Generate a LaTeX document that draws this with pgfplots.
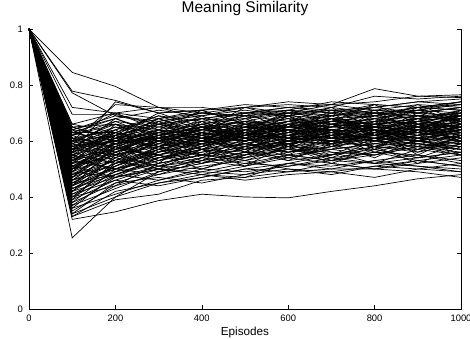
\documentclass[border=0pt]{standalone}
\usepackage{pgfplots}
\usepackage{pgfplotstable}
\pgfplotsset{compat=1.18}
\usepackage{fontspec}
\setmainfont{Liberation Sans}

\pgfplotstableread{
id 0 100 200 300 400 500 600 700 800 900 1000
s1 1 .845 .795 .72 .70 .69 .70 .71 .70 .69 .70
s2 1 .778 .745 .70 .71 .72 .73 .72 .76 .75 .76
s3 1 .772 .69 .67 .70 .72 .74 .73 .74 .76 .765
s4 1 .72 .70 .72 .72 .70 .72 .73 .787 .76 .755
s5 1 .695 .695 .66 .68 .70 .69 .71 .72 .74 .75
s6 1 .254 .40 .45 .47 .50 .52 .55 .58 .57 .60
s7 1 .32 .347 .387 .41 .40 .397 .42 .44 .465 .48
s8 1 .33 .39 .41 .46 .47 .49 .50 .50 .49 .47
s9 1 .33 .42 .45 .48 .47 .52 .51 .53 .55 .52
s10 1 .34 .45 .50 .48 .46 .48 .49 .47 .50 .49
s11 1 .56 .74 .70 .71 .66 .69 .68 .70 .72 .71
s12 1 .60 .73 .72 .68 .70 .71 .74 .73 .72 .74
s13 1 .35 .44 .52 .55 .58 .60 .59 .62 .63 .61
s14 1 .36 .48 .53 .57 .55 .60 .62 .61 .64 .66
s15 1 .37 .43 .49 .52 .56 .54 .58 .60 .59 .62
s16 1 .38 .50 .55 .60 .62 .61 .63 .65 .64 .63
s17 1 .39 .46 .51 .50 .54 .57 .56 .55 .58 .57
s18 1 .40 .52 .58 .62 .64 .66 .65 .67 .69 .68
s19 1 .40 .44 .48 .53 .51 .55 .53 .52 .54 .56
s20 1 .41 .49 .56 .59 .63 .62 .64 .66 .65 .67
s21 1 .42 .55 .60 .63 .61 .65 .67 .66 .68 .70
s22 1 .42 .47 .50 .49 .52 .51 .53 .56 .55 .53
s23 1 .43 .51 .57 .61 .60 .63 .62 .64 .63 .65
s24 1 .44 .58 .62 .65 .67 .66 .69 .70 .68 .71
s25 1 .44 .50 .53 .56 .59 .58 .60 .62 .61 .60
s26 1 .45 .54 .59 .57 .60 .62 .61 .59 .62 .64
s27 1 .45 .48 .52 .55 .53 .56 .58 .57 .60 .59
s28 1 .46 .56 .63 .66 .64 .67 .69 .71 .70 .72
s29 1 .46 .52 .55 .58 .62 .60 .63 .61 .64 .62
s30 1 .47 .60 .64 .62 .66 .68 .67 .69 .71 .70
s31 1 .47 .53 .49 .52 .55 .57 .54 .56 .53 .55
s32 1 .48 .57 .61 .64 .63 .65 .64 .66 .67 .69
s33 1 .48 .51 .56 .60 .58 .61 .63 .62 .65 .63
s34 1 .49 .59 .62 .60 .63 .61 .64 .63 .62 .65
s35 1 .49 .55 .58 .55 .57 .60 .59 .61 .60 .58
s36 1 .50 .62 .66 .68 .67 .70 .68 .69 .72 .71
s37 1 .50 .53 .57 .61 .64 .62 .65 .67 .66 .68
s38 1 .51 .58 .55 .58 .61 .59 .62 .64 .63 .61
s39 1 .51 .47 .51 .54 .52 .55 .57 .59 .58 .60
s40 1 .52 .61 .63 .66 .69 .67 .70 .68 .71 .73
s41 1 .52 .56 .60 .58 .62 .64 .63 .65 .64 .66
s42 1 .53 .59 .64 .67 .65 .68 .66 .70 .69 .67
s43 1 .53 .50 .54 .57 .56 .59 .61 .60 .62 .64
s44 1 .54 .63 .61 .64 .66 .65 .67 .66 .68 .69
s45 1 .54 .57 .62 .60 .63 .61 .60 .63 .65 .62
s46 1 .55 .61 .65 .63 .60 .64 .66 .65 .63 .66
s47 1 .55 .52 .56 .59 .61 .58 .57 .59 .61 .59
s48 1 .56 .64 .68 .70 .69 .71 .70 .72 .70 .72
s49 1 .56 .60 .58 .61 .63 .66 .64 .62 .66 .65
s50 1 .57 .62 .66 .64 .67 .65 .68 .67 .66 .70
s51 1 .57 .55 .59 .62 .60 .62 .65 .64 .61 .63
s52 1 .58 .65 .63 .66 .68 .70 .69 .71 .73 .72
s53 1 .58 .61 .57 .55 .58 .61 .60 .58 .56 .59
s54 1 .59 .63 .67 .69 .71 .69 .72 .70 .71 .74
s55 1 .59 .56 .60 .63 .65 .64 .62 .65 .67 .66
s56 1 .60 .66 .64 .62 .65 .67 .66 .68 .67 .65
s57 1 .60 .58 .54 .57 .59 .56 .58 .61 .60 .62
s58 1 .61 .64 .69 .67 .70 .72 .71 .69 .72 .73
s59 1 .61 .59 .62 .65 .63 .66 .68 .66 .64 .67
s60 1 .62 .67 .65 .68 .66 .63 .65 .67 .69 .68
s61 1 .62 .57 .55 .52 .55 .58 .57 .55 .58 .56
s62 1 .63 .68 .71 .69 .72 .70 .73 .71 .70 .72
s63 1 .63 .60 .63 .61 .64 .67 .65 .68 .66 .64
s64 1 .64 .62 .66 .70 .68 .71 .69 .72 .74 .73
s65 1 .64 .69 .66 .63 .61 .63 .66 .64 .67 .69
s66 1 .65 .66 .62 .65 .67 .64 .67 .69 .68 .70
s67 1 .65 .61 .58 .60 .57 .60 .62 .60 .63 .61
s68 1 .66 .70 .68 .71 .73 .72 .70 .73 .72 .74
s69 1 .36 .41 .46 .50 .49 .51 .54 .52 .51 .50
s70 1 .38 .45 .47 .45 .48 .50 .48 .51 .53 .51
s71 1 .41 .46 .44 .47 .50 .49 .52 .50 .52 .54
s72 1 .43 .48 .46 .49 .48 .52 .50 .53 .51 .49
s73 1 .46 .50 .48 .51 .53 .50 .49 .51 .50 .52
s74 1 .49 .47 .50 .48 .51 .54 .52 .50 .53 .51
s75 1 .52 .54 .51 .53 .56 .53 .55 .57 .54 .56
s76 1 .55 .49 .52 .55 .54 .57 .55 .58 .57 .55
s77 1 .58 .53 .50 .53 .56 .55 .53 .55 .59 .58
s78 1 .34 .40 .49 .54 .57 .59 .62 .64 .63 .65
s79 1 .37 .47 .54 .58 .62 .64 .63 .66 .68 .67
s80 1 .39 .53 .60 .64 .62 .65 .67 .65 .67 .69
s81 1 .42 .51 .58 .61 .65 .63 .66 .68 .70 .69
s82 1 .44 .54 .61 .59 .62 .66 .64 .63 .66 .68
s83 1 .47 .57 .62 .65 .63 .60 .62 .64 .62 .64
s84 1 .50 .58 .63 .61 .59 .62 .60 .62 .64 .61
s85 1 .53 .63 .60 .62 .60 .63 .61 .63 .61 .63
s86 1 .57 .60 .61 .59 .62 .60 .63 .60 .62 .60
s87 1 .60 .62 .60 .63 .61 .59 .61 .62 .60 .58
s88 1 .63 .59 .61 .64 .62 .65 .63 .61 .63 .60
s89 1 .45 .52 .57 .60 .58 .56 .59 .61 .59 .57
s90 1 .40 .48 .54 .56 .59 .57 .60 .58 .60 .62
s91 1 .47 .58 .52 .63 .56 .66 .58 .64 .55 .62
s92 1 .49 .62 .55 .60 .67 .58 .64 .57 .66 .60
s93 1 .51 .55 .64 .57 .62 .69 .61 .67 .60 .65
s94 1 .52 .66 .58 .65 .59 .63 .70 .62 .68 .63
s95 1 .53 .57 .67 .60 .66 .60 .65 .71 .63 .69
s96 1 .55 .64 .56 .62 .58 .66 .59 .63 .69 .64
s97 1 .56 .52 .60 .66 .61 .57 .64 .60 .58 .66
s98 1 .57 .68 .62 .57 .64 .70 .63 .69 .65 .60
s99 1 .58 .60 .68 .63 .70 .64 .59 .66 .71 .67
s100 1 .59 .54 .61 .68 .62 .67 .72 .64 .61 .68
s101 1 .60 .65 .59 .64 .69 .61 .67 .73 .66 .62
s102 1 .61 .58 .66 .61 .56 .64 .60 .58 .64 .70
s103 1 .62 .70 .64 .71 .66 .60 .68 .63 .70 .66
s104 1 .63 .63 .69 .64 .72 .68 .62 .68 .63 .71
s105 1 .64 .57 .63 .69 .63 .71 .66 .60 .67 .63
s106 1 .48 .53 .60 .54 .61 .55 .62 .56 .60 .57
s107 1 .50 .60 .53 .59 .54 .60 .55 .61 .56 .62
s108 1 .54 .50 .57 .52 .58 .53 .59 .54 .61 .55
s109 1 .46 .56 .50 .57 .51 .59 .53 .58 .52 .58
s110 1 .44 .51 .58 .53 .60 .54 .57 .63 .58 .55
s111 1 .57 .63 .57 .67 .61 .69 .64 .58 .62 .68
s112 1 .59 .67 .61 .55 .63 .58 .66 .62 .57 .63
s113 1 .61 .56 .62 .58 .65 .69 .61 .66 .62 .67
s114 1 .65 .60 .67 .62 .68 .63 .71 .65 .72 .66
s115 1 .62 .66 .60 .66 .62 .67 .63 .70 .64 .69
s116 1 .53 .61 .68 .62 .57 .62 .68 .62 .67 .71
s117 1 .55 .59 .53 .58 .64 .59 .54 .60 .66 .59
s118 1 .43 .49 .55 .50 .55 .61 .56 .52 .57 .61
s119 1 .50 .56 .62 .67 .61 .56 .60 .65 .59 .57
s120 1 .58 .62 .70 .65 .60 .66 .61 .67 .73 .67
s121 1 .64 .68 .63 .59 .65 .61 .69 .64 .61 .66
s122 1 .60 .55 .51 .57 .53 .58 .52 .57 .54 .59
s123 1 .51 .59 .64 .60 .66 .62 .58 .63 .68 .64
s124 1 .56 .62 .58 .63 .60 .66 .63 .61 .65 .69
s125 1 .66 .63 .59 .65 .61 .65 .68 .64 .60 .64
}\raw
\pgfplotstabletranspose[colnames from=id, input colnames to=ep]\data\raw

\begin{document}
\begin{tikzpicture}
\begin{axis}[
  name=ax,
  width=432pt, height=280pt, scale only axis,
  xmin=0, xmax=1000, ymin=0, ymax=1,
  xtick={0,200,400,600,800,1000},
  ytick={0,0.2,0.4,0.6,0.8,1},
  tick align=inside,
  xtick pos=left, ytick pos=both,
  major tick length=4pt,
  axis line style={draw=none},
  tick style={black, line width=0.6pt},
  /pgf/number format/assume math mode=true,
  /pgf/number format/1000 sep={},
  tick label style={font=\fontsize{9.4}{10}\selectfont},
  xticklabel style={anchor=base, yshift=-12.4pt},
  yticklabel style={anchor=east, xshift=-2.5pt},
  title={Meaning Similarity},
  title style={at={(0.5,1)}, anchor=base, yshift=10pt, font=\fontsize{15.5}{17}\selectfont},
  xlabel={Episodes},
  xlabel style={at={(0.5,0)}, anchor=base, yshift=-26.4pt, font=\fontsize{11.7}{13}\selectfont},
]
\pgfplotsinvokeforeach{1,...,125}{
  \addplot[black, solid, line width=0.7pt, mark=none] table[x=ep, y=s#1]{\data};
}
\end{axis}
\draw[black, line width=0.6pt] (ax.north west)--(ax.south west)--(ax.south east)--(ax.north east);
\pgfresetboundingbox
\path ([shift={(-29pt,-30pt)}]ax.south west) rectangle ([shift={(9pt,29pt)}]ax.north east);
\end{tikzpicture}
\end{document}
